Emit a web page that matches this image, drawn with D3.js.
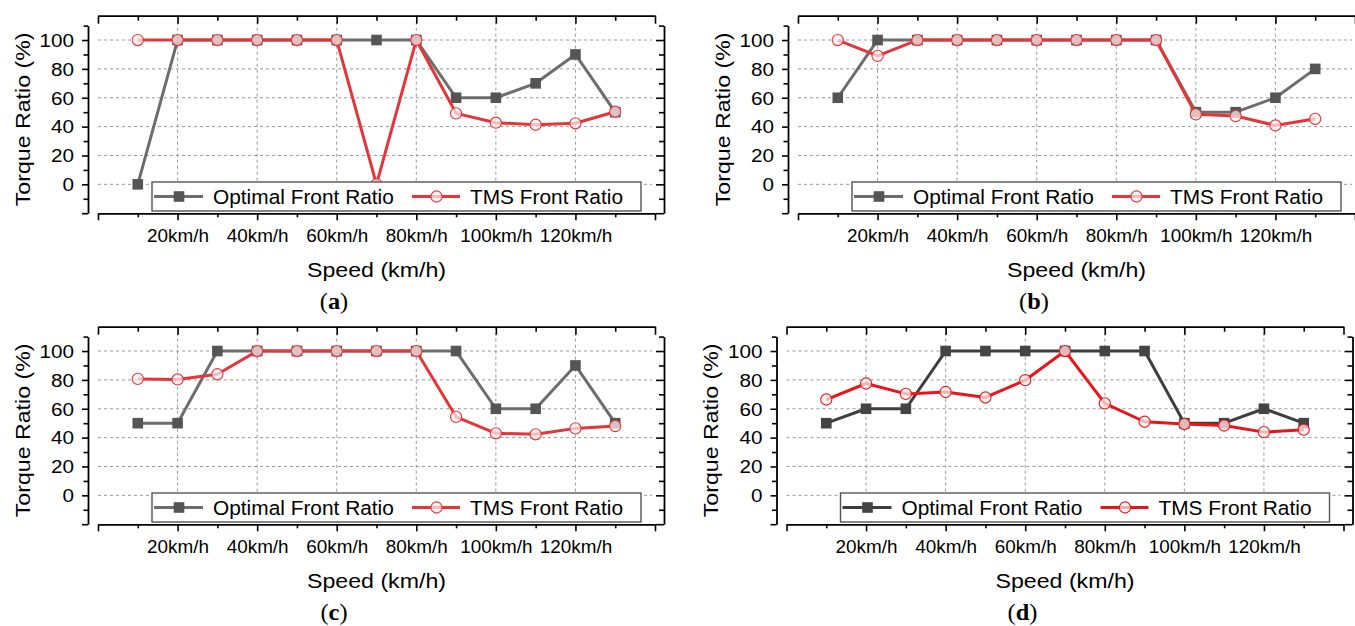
<!DOCTYPE html>
<html><head><meta charset="utf-8">
<script src="https://cdn.jsdelivr.net/npm/d3@7"></script>
<style>body{margin:0;background:#fff;} svg{display:block;}</style>
</head><body>
<svg id="chart" width="1355" height="626"></svg>
<script>
// ---------- data ----------
const speeds = [10, 20, 30, 40, 50, 60, 70, 80, 90, 100, 110, 120, 130];
const xTickValues = [20, 40, 60, 80, 100, 120];
const xTickLabels = ["20km/h", "40km/h", "60km/h", "80km/h", "100km/h", "120km/h"];
const yTickValues = [0, 20, 40, 60, 80, 100];
const seriesNames = ["Optimal Front Ratio", "TMS Front Ratio"];
const panelLabels = ["a", "b", "c", "d"];
const xTitle = "Speed (km/h)";
const yTitle = "Torque Ratio (%)";

const optimalA = [0, 100, 100, 100, 100, 100, 100, 100, 60, 60, 70, 90, 50];
const tmsA     = [100, 100, 100, 100, 100, 100, 0, 100, 49.2, 42.7, 41.3, 42.3, 50.3];
const optimalB = [60, 100, 100, 100, 100, 100, 100, 100, 100, 50, 50, 60, 80];
const tmsB     = [100, 89, 100, 100, 100, 100, 100, 100, 100, 48.5, 47.3, 40.8, 45.4];
const optimalC = [50, 50, 100, 100, 100, 100, 100, 100, 100, 60, 60, 90, 50];
const tmsC     = [80.7, 80.3, 83.9, 100, 100, 100, 100, 100, 54.4, 43, 42.3, 46.4, 48];
const optimalD = [50, 60, 60, 100, 100, 100, 100, 100, 100, 50, 50, 60, 50];
const tmsD     = [66.4, 77.5, 70.3, 71.6, 67.8, 79.8, 100, 63.7, 51, 49.4, 48.4, 43.8, 45.5];

// ---------- layout / style ----------
const panels = [
  {opt: optimalA, tms: tmsA, label: panelLabels[0], dx: 0,   dy: 0,   gray: "#6d6d6d", sq: "#555", red: "#e3363b"},
  {opt: optimalB, tms: tmsB, label: panelLabels[1], dx: 700, dy: 0,   gray: "#6d6d6d", sq: "#555", red: "#e3363b"},
  {opt: optimalC, tms: tmsC, label: panelLabels[2], dx: 0,   dy: 311, gray: "#6d6d6d", sq: "#555", red: "#e3363b"},
  {opt: optimalD, tms: tmsD, label: panelLabels[3], dx: 688.5, dy: 311, gray: "#3e3e3e", sq: "#444", red: "#e8161b"}
];
const FONT = "'Liberation Sans', Arial, sans-serif";
const svg = d3.select("#chart");

const x = d3.scaleLinear().domain([0, 140]).range([98, 655]);
const y = d3.scaleLinear().domain([-20, 110]).range([213.2, 25.6]);
const frameTop = 15.7, frameBottom = 213.3, leftAxisX = 88, rightAxisX = 664;

function styleAxis(g) {
  g.selectAll("path.domain").attr("stroke", "#000").attr("stroke-width", 1.8);
  g.selectAll(".tick line").attr("stroke", "#000").attr("stroke-width", 1.6);
}

panels.forEach(p => {
  const g = svg.append("g").attr("transform", `translate(${p.dx},${p.dy})`);

  // grid
  const grid = g.append("g").attr("stroke", "#9a9a9a").attr("stroke-width", 1).attr("stroke-dasharray", "3,3");
  grid.selectAll("line.h").data(yTickValues).join("line")
    .attr("x1", x(0)).attr("x2", x(140) - 3).attr("y1", d => y(d)).attr("y2", d => y(d));
  grid.selectAll("line.v").data(xTickValues).join("line")
    .attr("x1", d => x(d)).attr("x2", d => x(d)).attr("y1", frameTop).attr("y2", frameBottom);

  const majorX = d3.range(0, 141, 20), minorX = d3.range(10, 140, 20);
  const allY = d3.range(-20, 111, 10);
  const majorY = allY.filter(v => v % 20 === 0), minorY = allY.filter(v => v % 20 !== 0);

  // top frame axis (ticks inward)
  const top = g.append("g").attr("transform", `translate(0,${frameTop})`)
    .call(d3.axisBottom(x).tickValues(majorX).tickSize(8).tickSizeOuter(0).tickFormat(""));
  g.append("g").attr("transform", `translate(0,${frameTop})`)
    .call(d3.axisBottom(x).tickValues(minorX).tickSize(5).tickSizeOuter(0).tickFormat(""))
    .call(s => s.select("path.domain").remove()).call(styleAxis);
  styleAxis(top);

  // bottom axis
  const bot = g.append("g").attr("transform", `translate(0,${frameBottom})`)
    .call(d3.axisBottom(x).tickValues(majorX).tickSize(7).tickSizeOuter(0)
      .tickFormat(d => { const i = xTickValues.indexOf(d); return i >= 0 ? xTickLabels[i] : ""; }));
  bot.selectAll("text").attr("y", 28.8).attr("dy", 0)
    .attr("font-family", FONT).attr("font-size", 17.5).attr("fill", "#000")
    .attr("transform", "scale(1.08,1)");
  styleAxis(bot);
  g.append("g").attr("transform", `translate(0,${frameBottom})`)
    .call(d3.axisBottom(x).tickValues(minorX).tickSize(4).tickSizeOuter(0).tickFormat(""))
    .call(s => s.select("path.domain").remove()).call(styleAxis);

  // left axis
  const left = g.append("g").attr("transform", `translate(${leftAxisX},0)`)
    .call(d3.axisLeft(y).tickValues(majorY).tickSize(6).tickSizeOuter(0)
      .tickFormat(d => yTickValues.includes(d) ? d : ""));
  left.selectAll("text").attr("x", 0).attr("dy", "0.35em")
    .attr("font-family", FONT).attr("font-size", 18).attr("fill", "#000")
    .attr("transform", "translate(-14,0) scale(1.15,1)");
  styleAxis(left);
  g.append("g").attr("transform", `translate(${leftAxisX},0)`)
    .call(d3.axisLeft(y).tickValues(minorY).tickSize(4.5).tickSizeOuter(0).tickFormat(""))
    .call(s => s.select("path.domain").remove()).call(styleAxis);

  // right axis (ticks pointing left)
  const right = g.append("g").attr("transform", `translate(${rightAxisX},0)`)
    .call(d3.axisLeft(y).tickValues(majorY).tickSize(8).tickSizeOuter(0).tickFormat(""));
  styleAxis(right);
  g.append("g").attr("transform", `translate(${rightAxisX},0)`)
    .call(d3.axisLeft(y).tickValues(minorY).tickSize(5).tickSizeOuter(0).tickFormat(""))
    .call(s => s.select("path.domain").remove()).call(styleAxis);

  // series
  const line = d3.line().x((d, i) => x(speeds[i])).y(d => y(d));
  g.append("path").datum(p.opt).attr("d", line).attr("fill", "none")
    .attr("stroke", p.gray).attr("stroke-width", 3).attr("stroke-linejoin", "round");
  g.selectAll("rect.sq").data(p.opt).join("rect")
    .attr("x", (d, i) => x(speeds[i]) - 5.3).attr("y", d => y(d) - 5.3)
    .attr("width", 10.6).attr("height", 10.6).attr("fill", p.sq);
  g.append("path").datum(p.tms).attr("d", line).attr("fill", "none")
    .attr("stroke", p.red).attr("stroke-width", 3).attr("stroke-linejoin", "round");
  g.selectAll("circle.c").data(p.tms).join("circle")
    .attr("cx", (d, i) => x(speeds[i])).attr("cy", d => y(d)).attr("r", 5.6)
    .attr("fill", "rgba(255,238,238,0.72)").attr("stroke", p.red).attr("stroke-width", 1.1);

  // legend
  const lg = g.append("g");
  lg.append("rect").attr("x", 152).attr("y", 182).attr("width", 489).attr("height", 29)
    .attr("fill", "#fff").attr("stroke", "#555").attr("stroke-width", 1.4);
  const ly = 196.5;
  lg.append("line").attr("x1", 154).attr("x2", 203).attr("y1", ly).attr("y2", ly)
    .attr("stroke", p.gray).attr("stroke-width", 3);
  lg.append("rect").attr("x", 179 - 5.3).attr("y", ly - 5.3).attr("width", 10.6).attr("height", 10.6).attr("fill", p.sq);
  lg.append("text").attr("font-family", FONT).attr("font-size", 19.5)
    .attr("transform", `translate(213,${ly + 7}) scale(1.07,1)`).text(seriesNames[0]);
  lg.append("line").attr("x1", 412).attr("x2", 460).attr("y1", ly).attr("y2", ly)
    .attr("stroke", p.red).attr("stroke-width", 3);
  lg.append("circle").attr("cx", 436.5).attr("cy", ly).attr("r", 5.6)
    .attr("fill", "rgba(255,238,238,0.72)").attr("stroke", p.red).attr("stroke-width", 1.1);
  lg.append("text").attr("font-family", FONT).attr("font-size", 19.5)
    .attr("transform", `translate(470,${ly + 7}) scale(1.07,1)`).text(seriesNames[1]);

  // titles
  g.append("text").attr("font-family", FONT).attr("font-size", 20.5).attr("text-anchor", "middle")
    .attr("transform", `translate(${(x(0) + x(140)) / 2},277) scale(1.13,1)`).text(xTitle);
  g.append("text").attr("font-family", FONT).attr("font-size", 20.5).attr("text-anchor", "middle")
    .attr("transform", `translate(29.5,${(y(-20) + y(110)) / 2}) rotate(-90) scale(1.13,1)`).text(yTitle);

  // caption
  const cap = g.append("text").attr("font-family", "'Liberation Serif', 'Times New Roman', serif")
    .attr("font-size", 23).attr("text-anchor", "middle")
    .attr("transform", `translate(334,308.5) scale(1.06,1)`);
  cap.append("tspan").text("(");
  cap.append("tspan").attr("font-weight", "bold").text(p.label);
  cap.append("tspan").text(")");
});
</script>
</body></html>
